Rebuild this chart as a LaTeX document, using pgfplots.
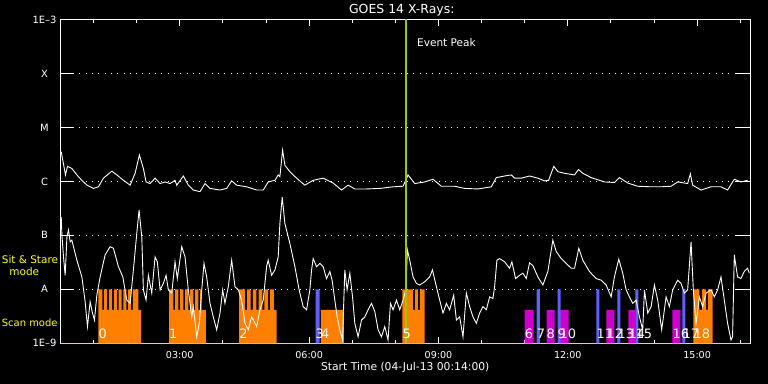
\documentclass[border=0pt]{standalone}
\usepackage{pgfplots}
\pgfplotsset{compat=1.18}
\usepackage{fontspec}
\setmainfont{DejaVu Sans}
\definecolor{sitorange}{RGB}{255,128,0}
\definecolor{scanblue}{RGB}{96,96,255}
\definecolor{scanmag}{RGB}{204,0,204}
\definecolor{peakgreen}{RGB}{153,204,0}
\definecolor{labyellow}{RGB}{255,255,0}
\tikzset{numlab/.style={white, anchor=base west, inner sep=0, font=\fontsize{13}{14}\selectfont}}

% hours of day (start 00:14) vs log10 flux (W/m^2)
\pgfplotstableread{
h L
0.250 -5.45
0.349 -5.88
0.396 -5.72
0.497 -5.76
0.613 -5.88
0.729 -5.98
0.845 -6.07
0.998 -6.13
1.113 -6.10
1.229 -5.94
1.424 -5.81
1.540 -5.88
1.693 -5.98
1.848 -6.07
1.964 -5.85
2.063 -5.51
2.156 -5.76
2.218 -6.01
2.311 -6.04
2.427 -5.94
2.543 -6.04
2.659 -6.01
2.774 -6.04
2.890 -5.98
2.930 -6.07
3.083 -5.90
3.198 -6.07
3.314 -6.16
3.469 -6.19
3.585 -6.04
3.701 -6.13
3.933 -6.16
4.088 -6.13
4.204 -5.99
4.320 -6.07
4.551 -6.10
4.783 -6.16
4.936 -6.16
5.051 -6.01
5.207 -5.98
5.283 -5.88
5.322 -5.91
5.385 -5.42
5.438 -5.70
5.554 -5.82
5.709 -5.94
5.901 -6.07
6.094 -5.98
6.325 -5.94
6.557 -6.03
6.752 -6.16
6.904 -6.07
7.060 -6.14
7.331 -6.14
7.639 -6.13
7.947 -6.10
8.179 -6.09
8.294 -5.88
8.449 -6.04
8.681 -6.01
8.873 -5.96
9.068 -6.09
9.376 -6.09
9.608 -6.13
9.916 -6.14
10.226 -6.10
10.342 -5.93
10.534 -5.90
10.689 -5.88
10.766 -5.94
10.921 -5.94
11.113 -5.90
11.306 -5.94
11.461 -5.99
11.554 -5.98
11.676 -5.72
11.769 -5.82
11.924 -5.85
12.156 -5.88
12.248 -5.78
12.348 -5.85
12.543 -5.93
12.851 -6.01
13.082 -6.02
13.198 -5.93
13.391 -6.03
13.622 -6.09
13.933 -6.10
14.164 -6.10
14.396 -6.09
14.549 -6.01
14.780 -6.04
14.843 -5.86
14.896 -6.07
15.091 -6.16
15.322 -6.10
15.554 -6.10
15.707 -6.16
15.862 -5.96
16.017 -6.01
16.170 -5.98
}\longchan

\pgfplotstableread{
h L
0.250 -6.66
0.266 -6.99
0.303 -7.40
0.342 -7.74
0.382 -7.03
0.419 -6.90
0.458 -7.12
0.497 -7.09
0.613 -7.46
0.729 -7.77
0.805 -8.23
0.859 -8.69
0.921 -8.23
0.975 -8.44
1.021 -8.57
1.076 -8.11
1.153 -7.77
1.269 -7.36
1.384 -7.21
1.461 -7.24
1.577 -7.58
1.679 -7.77
1.771 -8.20
1.848 -8.26
1.924 -7.64
2.003 -6.96
2.056 -6.53
2.119 -7.03
2.156 -8.01
2.218 -8.20
2.272 -7.74
2.350 -8.07
2.427 -7.40
2.480 -7.49
2.543 -8.01
2.619 -7.89
2.682 -7.74
2.735 -8.01
2.814 -8.07
2.890 -7.49
2.943 -7.80
3.045 -7.21
3.122 -7.40
3.198 -8.01
3.277 -8.51
3.314 -8.32
3.393 -8.88
3.453 -8.63
3.509 -8.01
3.562 -7.52
3.624 -7.77
3.701 -8.26
3.777 -8.51
3.856 -8.75
3.933 -8.44
3.995 -8.01
4.048 -8.26
4.125 -7.95
4.204 -7.46
4.280 -7.95
4.357 -8.01
4.435 -8.20
4.512 -8.63
4.588 -8.75
4.667 -8.51
4.783 -8.69
4.859 -8.38
4.936 -8.20
5.014 -7.58
5.051 -7.46
5.130 -7.74
5.207 -7.64
5.283 -7.40
5.322 -6.78
5.376 -6.29
5.438 -6.78
5.554 -7.15
5.670 -7.58
5.769 -8.01
5.786 -8.07
5.862 -8.32
5.941 -8.38
6.017 -8.01
6.057 -7.64
6.094 -7.43
6.172 -7.58
6.249 -7.52
6.325 -7.58
6.404 -7.80
6.481 -7.67
6.534 -7.83
6.596 -8.20
6.650 -8.51
6.712 -8.75
6.775 -8.94
6.828 -7.64
6.881 -8.01
6.944 -7.70
7.007 -8.14
7.060 -8.63
7.136 -8.88
7.215 -8.57
7.292 -8.51
7.368 -8.38
7.447 -8.26
7.523 -8.41
7.600 -8.75
7.678 -8.88
7.755 -8.69
7.831 -8.94
7.887 -8.26
7.947 -8.38
8.026 -8.20
8.102 -8.38
8.179 -8.20
8.241 -8.01
8.280 -7.27
8.334 -7.46
8.410 -7.77
8.489 -7.89
8.565 -7.92
8.681 -7.86
8.797 -7.77
8.860 -7.64
8.952 -7.95
9.029 -8.20
9.105 -8.44
9.184 -8.26
9.260 -8.38
9.353 -8.11
9.416 -8.57
9.492 -8.51
9.569 -8.88
9.647 -8.07
9.724 -8.32
9.800 -8.51
9.879 -8.63
9.955 -8.44
10.032 -8.32
10.110 -8.38
10.187 -8.14
10.263 -8.17
10.303 -7.95
10.356 -7.46
10.419 -7.43
10.534 -7.49
10.650 -7.61
10.703 -7.49
10.789 -7.80
10.882 -7.74
10.958 -7.70
11.037 -7.80
11.113 -7.51
11.190 -7.56
11.306 -7.77
11.422 -7.92
11.537 -7.67
11.653 -7.09
11.732 -7.30
11.848 -7.43
11.964 -7.52
12.079 -7.61
12.156 -7.61
12.256 -7.24
12.348 -7.46
12.503 -7.67
12.658 -7.80
12.774 -7.83
12.890 -7.92
13.006 -8.14
13.082 -7.77
13.182 -7.44
13.274 -7.70
13.353 -8.01
13.430 -8.14
13.506 -8.26
13.585 -8.20
13.662 -8.51
13.738 -8.75
13.778 -8.01
13.854 -8.44
13.933 -8.32
14.009 -7.92
14.086 -8.20
14.178 -8.75
14.280 -8.14
14.357 -8.32
14.433 -8.01
14.549 -7.83
14.627 -7.89
14.704 -8.07
14.780 -8.01
14.859 -7.12
14.912 -8.01
14.975 -8.63
15.051 -8.14
15.128 -8.32
15.206 -8.07
15.322 -8.01
15.399 -8.14
15.475 -8.01
15.554 -7.77
15.630 -8.20
15.707 -8.63
15.785 -8.94
15.822 -8.88
15.862 -7.36
15.938 -7.77
16.017 -7.80
16.093 -7.67
16.170 -7.61
16.210 -7.70
}\shortchan

\begin{document}
\begin{tikzpicture}
\path[use as bounding box, fill=black] (-60.5bp,-40.7bp) rectangle (707.5bp,343.3bp);
\begin{axis}[
  at={(0,0)}, anchor=south west,
  scale only axis, width=689.8bp, height=323.8bp,
  xmin=0.2333, xmax=16.2333, ymin=-9, ymax=-3,
  clip=false,
  axis line style={white, line width=1bp},
  xtick={3,6,9,12,15},
  xticklabels={\mbox{03:00},\mbox{06:00},\mbox{09:00},\mbox{12:00},\mbox{15:00}},
  minor xtick={1,2,4,5,7,8,10,11,13,14,16},
  ytick={-9,-8,-7,-6,-5,-4,-3},
  yticklabels={\mbox{1E--9},\mbox{A},\mbox{B},\mbox{C},\mbox{M},\mbox{X},\mbox{1E--3}},
  tick align=inside,
  xtick style={white, line width=1bp, /pgfplots/major tick length=6.7bp, /pgfplots/minor tick length=3.3bp},
  ytick style={white, line width=1bp, /pgfplots/major tick length=14bp},
  ymajorgrids,
  grid style={white, line width=1bp, dash pattern=on 1bp off 5.3bp},
  xticklabel style={white, font=\fontsize{9.6}{11}\selectfont, yshift=-5bp},
  yticklabel style={white, font=\fontsize{10}{12}\selectfont, anchor=center, xshift=-16bp},
]
% Sit & Stare (upper comb) and scan (lower part) observations
\addplot[const plot mark left, fill=sitorange, draw=none] coordinates {
 (0.2333,-9)
 (1.113,-8) (1.206,-8.38) (1.248,-8) (1.317,-8.38) (1.359,-8) (1.428,-8.38) (1.470,-8)
 (1.539,-8.38) (1.581,-8) (1.650,-8.38) (1.692,-8) (1.761,-8.38) (1.803,-8) (1.872,-8.38)
 (1.914,-8) (2.040,-8.38) (2.103,-9)
 (2.751,-8) (2.851,-8.38) (2.891,-8) (2.967,-8.38) (3.007,-8) (3.083,-8.38) (3.123,-8)
 (3.199,-8.38) (3.239,-8) (3.315,-8.38) (3.355,-8) (3.431,-8.38) (3.471,-8) (3.508,-8.38) (3.608,-9)
 (4.379,-8) (4.511,-8.38) (4.562,-8) (4.645,-8.38) (4.696,-8) (4.779,-8.38) (4.830,-8)
 (4.913,-8.38) (4.964,-8) (5.047,-8.38) (5.098,-8) (5.183,-8.38) (5.246,-9)
 (6.272,-8.38) (6.805,-9)
 (8.164,-8) (8.409,-8.38) (8.460,-8) (8.525,-8.38) (8.571,-8) (8.681,-9)
 (14.912,-8) (15.051,-8.38) (15.114,-8) (15.206,-8.38) (15.248,-8) (15.360,-9)
 (16.2333,-9)
};
\addplot[const plot mark left, fill=scanmag, draw=none] coordinates {
 (0.2333,-9) (10.998,-8.38) (11.206,-9) (11.507,-8.38) (11.692,-9) (11.808,-8.38) (12.017,-9)
 (12.897,-8.38) (13.082,-9) (13.407,-8.38) (13.569,-9) (14.426,-8.38) (14.611,-9) (16.2333,-9)
};
\addplot[const plot mark left, fill=scanblue, draw=none] coordinates {
 (0.2333,-9) (6.149,-8) (6.242,-9) (11.276,-8) (11.352,-9) (11.762,-8) (11.832,-9)
 (12.665,-8) (12.735,-9) (13.152,-8) (13.222,-9) (13.569,-8) (13.638,-9) (14.658,-8) (14.727,-9)
 (16.2333,-9)
};
% GOES curves
\addplot[white, line width=0.9bp, mark=none] table[x=h, y=L] {\longchan};
\addplot[white, line width=0.9bp, mark=none] table[x=h, y=L] {\shortchan};
% Event peak
\addplot[peakgreen, line width=2bp, mark=none] coordinates {(8.257,-9) (8.257,-3)};
\node[white, anchor=base west, inner sep=0, font=\fontsize{10.6}{12}\selectfont] at (axis cs:8.50,-3.504) {Event Peak};
% observation numbers
\node[numlab] at (axis cs:1.113,-8.907) {0};
\node[numlab] at (axis cs:2.751,-8.907) {1};
\node[numlab] at (axis cs:4.379,-8.907) {2};
\node[numlab] at (axis cs:6.149,-8.907) {3};
\node[numlab] at (axis cs:6.272,-8.907) {4};
\node[numlab] at (axis cs:8.164,-8.907) {5};
\node[numlab] at (axis cs:10.998,-8.907) {6};
\node[numlab] at (axis cs:11.276,-8.907) {7};
\node[numlab] at (axis cs:11.507,-8.907) {8};
\node[numlab] at (axis cs:11.762,-8.907) {9};
\node[numlab] at (axis cs:11.808,-8.907) {10};
\node[numlab] at (axis cs:12.665,-8.907) {11};
\node[numlab] at (axis cs:12.897,-8.907) {12};
\node[numlab] at (axis cs:13.152,-8.907) {13};
\node[numlab] at (axis cs:13.407,-8.907) {14};
\node[numlab] at (axis cs:13.569,-8.907) {15};
\node[numlab] at (axis cs:14.426,-8.907) {16};
\node[numlab] at (axis cs:14.658,-8.907) {17};
\node[numlab] at (axis cs:14.912,-8.907) {18};
% texts
\node[white, anchor=base, inner sep=0, font=\fontsize{12.5}{14}\selectfont] at (axis cs:8.15,-2.885) {GOES 14 X-Rays:};
\node[white, anchor=center, inner sep=0, font=\fontsize{10.8}{12}\selectfont] at (axis cs:8.23,-9.452) {Start Time (04-Jul-13 00:14:00)};
\node[labyellow, anchor=base west, inner sep=0, font=\fontsize{10.5}{12}\selectfont] at (axis cs:0.2333,-7.519) [xshift=-58.8bp] {Sit \& Stare};
\node[labyellow, anchor=base, inner sep=0, font=\fontsize{10.5}{12}\selectfont] at (axis cs:0.2333,-7.735) [xshift=-36.2bp] {mode};
\node[labyellow, anchor=base west, inner sep=0, font=\fontsize{10}{12}\selectfont] at (axis cs:0.2333,-8.693) [xshift=-58.8bp] {Scan mode};
\end{axis}
\end{tikzpicture}
\end{document}
